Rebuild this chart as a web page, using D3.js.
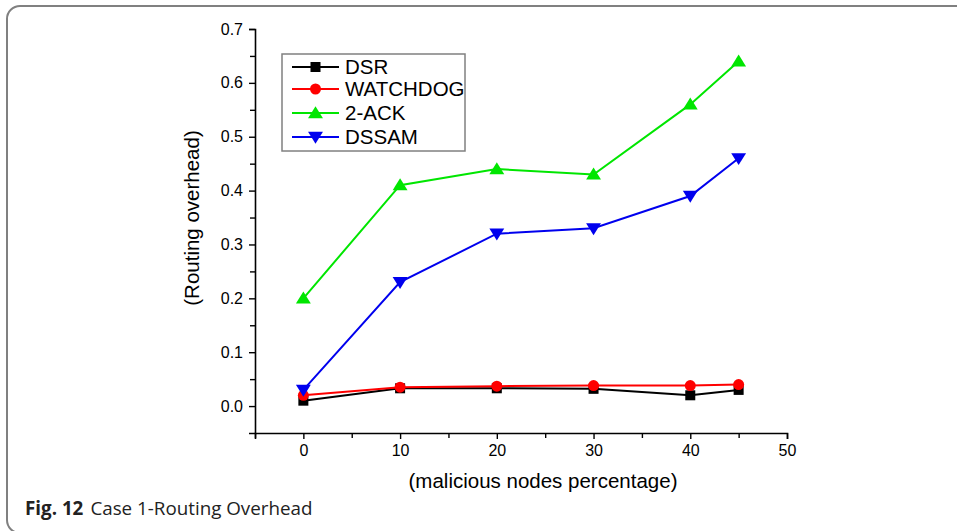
<!DOCTYPE html>
<html><head><meta charset="utf-8">
<script src="https://cdn.jsdelivr.net/npm/d3@7"></script>
<style>body{margin:0;background:#fff}svg{display:block}</style>
</head><body>
<svg id="c" width="957" height="531"></svg>
<script>
const xValues = [0, 10, 20, 30, 40, 45];
const seriesNames = ["DSR", "WATCHDOG", "2-ACK", "DSSAM"];
const dsr = [0.010, 0.033, 0.033, 0.032, 0.020, 0.030];
const watchdog = [0.020, 0.035, 0.037, 0.038, 0.038, 0.040];
const ack2 = [0.20, 0.41, 0.44, 0.43, 0.56, 0.64];
const dssam = [0.03, 0.23, 0.32, 0.33, 0.39, 0.46];
const xTicks = [0, 10, 20, 30, 40, 50];
const yTicks = [0.0, 0.1, 0.2, 0.3, 0.4, 0.5, 0.6, 0.7];
const xLabel = "(malicious nodes percentage)";
const yLabel = "(Routing overhead)";
const captionBold = "Fig. 12";
const captionText = "Case 1-Routing Overhead";

const colors = ["#000000", "#ff0000", "#00e600", "#0000ee"];
const shapes = ["square", "circle", "triangle", "triangleDown"];
const allSeries = [dsr, watchdog, ack2, dssam];

const svg = d3.select("#c");
const font = "'Liberation Sans', Arial, sans-serif";

// frame
svg.append("rect").attr("x", 7).attr("y", 6).attr("width", 1100).attr("height", 527)
  .attr("rx", 13).attr("fill", "none").attr("stroke", "#808080").attr("stroke-width", 2);

const x = d3.scaleLinear().domain([-5, 50]).range([255, 787]);
const y = d3.scaleLinear().domain([-0.05, 0.7]).range([433, 29]);

// axes
const gx = svg.append("g").attr("transform", "translate(0,433)");
gx.call(d3.axisBottom(x).tickValues(xTicks).tickSize(6).tickPadding(6).tickFormat(d3.format("d")));
gx.append("g").call(d3.axisBottom(x).tickValues(d3.range(-5, 50, 10)).tickSize(5).tickFormat(""));
const gy = svg.append("g").attr("transform", "translate(255,0)");
gy.call(d3.axisLeft(y).tickValues(yTicks).tickSize(6).tickPadding(6).tickFormat(d3.format(".1f")));
gy.append("g").call(d3.axisLeft(y).tickValues(d3.range(0.05, 0.7, 0.1)).tickSize(5).tickFormat(""));
[gx, gy].forEach(g => {
  g.selectAll(".domain").attr("stroke", "#000").attr("stroke-width", 1.6);
  g.selectAll("line").attr("stroke", "#000").attr("stroke-width", 1.4);
  g.selectAll("text").attr("font-family", font).attr("font-size", 16).attr("fill", "#000");
});
gx.selectAll("g g .domain").remove();
gy.selectAll("g g .domain").remove();

svg.append("text").attr("x", 543).attr("y", 488).attr("text-anchor", "middle")
  .attr("font-family", font).attr("font-size", 20.5).text(xLabel);
svg.append("text").attr("transform", "translate(199,218) rotate(-90)").attr("text-anchor", "middle")
  .attr("font-family", font).attr("font-size", 20.5).text(yLabel);

function marker(g, shape, color, cx, cy, s) {
  if (shape === "square") {
    g.append("rect").attr("x", cx - s/2).attr("y", cy - s/2).attr("width", s).attr("height", s).attr("fill", color);
  } else if (shape === "circle") {
    g.append("circle").attr("cx", cx).attr("cy", cy).attr("r", s/2 + 0.5).attr("fill", color);
  } else if (shape === "triangle") {
    const h = s * 0.95;
    g.append("path").attr("d", `M${cx},${cy - h*0.6}L${cx + s*0.62},${cy + h*0.45}L${cx - s*0.62},${cy + h*0.45}Z`).attr("fill", color);
  } else {
    const h = s * 0.95;
    g.append("path").attr("d", `M${cx},${cy + h*0.6}L${cx + s*0.62},${cy - h*0.45}L${cx - s*0.62},${cy - h*0.45}Z`).attr("fill", color);
  }
}

const line = d3.line().x((d, i) => x(xValues[i])).y(d => y(d));
allSeries.forEach((vals, k) => {
  const g = svg.append("g");
  g.append("path").attr("d", line(vals)).attr("fill", "none").attr("stroke", colors[k]).attr("stroke-width", 2);
  vals.forEach((v, i) => marker(g, shapes[k], colors[k], x(xValues[i]), y(v), k >= 2 ? 12 : 10));
});

// legend
const lg = svg.append("g");
lg.append("rect").attr("x", 282).attr("y", 54).attr("width", 183).attr("height", 97)
  .attr("fill", "#fff").attr("stroke", "#808080").attr("stroke-width", 1.5);
const rowY = [67, 89, 113, 137];
seriesNames.forEach((n, k) => {
  lg.append("line").attr("x1", 292).attr("x2", 339).attr("y1", rowY[k]).attr("y2", rowY[k])
    .attr("stroke", colors[k]).attr("stroke-width", 2);
  marker(lg, shapes[k], colors[k], 315.5, rowY[k], k >= 2 ? 12 : 10);
  lg.append("text").attr("x", 345).attr("y", rowY[k] + 7).attr("font-family", font)
    .attr("font-size", 20.5).text(n);
});

// caption
const cap = svg.append("text").attr("x", 25).attr("y", 515).attr("font-family", "'Open Sans', 'Noto Sans', sans-serif")
  .attr("font-size", 18.8).attr("fill", "#222");
cap.append("tspan").attr("font-weight", "bold").text(captionBold);
cap.append("tspan").attr("dx", 7).text(captionText);
</script>
</body></html>
